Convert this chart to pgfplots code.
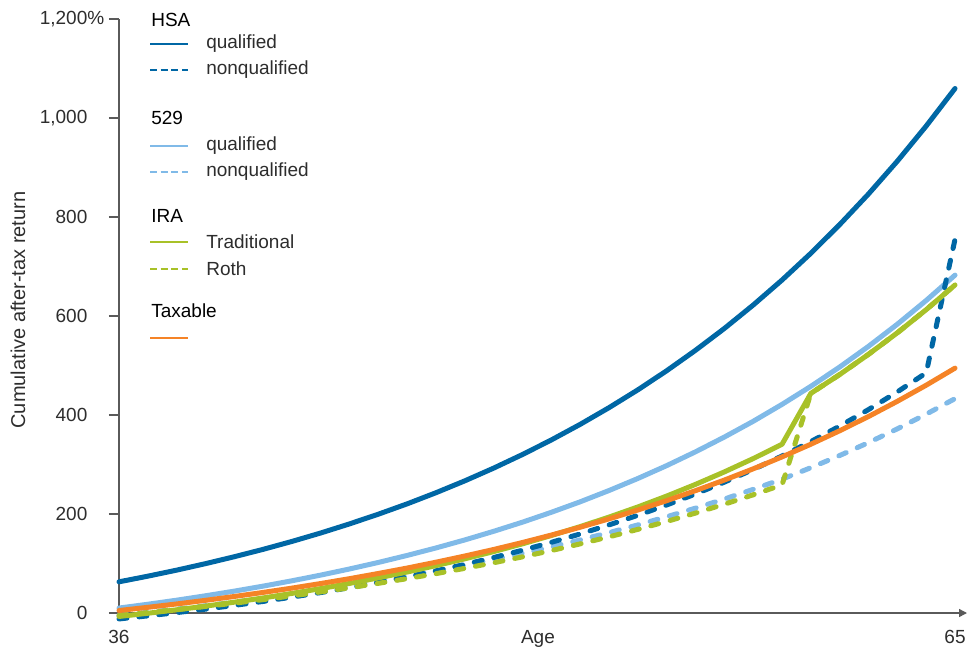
\documentclass[border=0pt]{standalone}
\usepackage{fontspec}
\setmainfont{Liberation Sans}
\usepackage{pgfplots}
\usepackage{pgfplotstable}
\pgfplotsset{compat=1.18}
\usetikzlibrary{arrows.meta}

\definecolor{hsa}{RGB}{0,103,165}
\definecolor{coll}{RGB}{128,186,232}
\definecolor{ira}{RGB}{168,193,40}
\definecolor{taxc}{RGB}{245,131,38}
\definecolor{axgray}{RGB}{90,90,90}
\definecolor{txt}{RGB}{45,45,45}

% cumulative after-tax return (%) by age
\pgfplotstableread{
age hsaq  hsanq  cq    cnq   trad  roth  tax
36  63.0  -12.0  10.0  -4.8  -7.0  -4.8  5.0
37  74.4  -5.8   17.7  1.4   -0.5  0.9   11.5
38  86.6  0.8    25.9  7.8   6.5   6.8   18.3
39  99.7  7.8    34.8  14.7  13.9  13.2  25.6
40  113.7 15.4   44.2  21.9  21.9  19.9  33.4
41  128.6 23.4   54.3  29.5  30.4  27.0  41.6
42  144.6 32.1   65.1  37.6  39.6  34.6  50.3
43  161.7 41.3   76.6  46.1  49.3  42.6  59.6
44  180.1 51.2   89.0  55.0  59.8  51.0  69.4
45  199.7 61.8   102.2 64.5  71.0  60.0  79.9
46  220.6 73.1   116.4 74.5  82.9  69.5  90.9
47  243.1 85.2   131.5 85.1  95.8  79.6  102.7
48  267.1 98.2   147.7 96.3  109.5 90.3  115.2
49  292.8 112.1  165.1 108.1 124.1 101.6 128.4
50  320.3 126.9  183.6 120.5 139.8 113.5 142.5
51  349.7 142.8  203.5 133.7 156.6 126.2 157.5
52  381.2 159.8  224.7 147.7 174.6 139.7 173.3
53  414.9 178.0  247.5 162.4 193.8 153.9 190.2
54  450.9 197.4  271.8 178.0 214.3 169.0 208.1
55  489.5 218.3  297.8 194.5 236.3 185.0 227.0
56  530.8 240.5  325.7 211.9 259.9 201.9 247.2
57  574.9 264.4  355.5 230.3 285.1 219.8 268.6
58  622.2 289.9  387.3 249.8 312.0 238.8 291.3
59  672.7 317.2  421.5 270.4 340.9 258.9 315.4
60  726.8 346.4  458.0 293.6 443.8 443.8 341.0
61  784.7 377.6  497.0 318.2 481.8 481.8 368.2
62  846.6 411.0  538.8 344.3 522.6 522.6 397.0
63  912.9 446.8  583.5 372.1 566.1 566.1 427.7
64  983.8 485.1  631.4 401.7 612.8 612.8 460.2
65  1059.6 755.0 682.6 433.1 662.7 662.7 494.7
}\returns

\begin{document}
\begin{tikzpicture}[font=\fontsize{9.5pt}{11pt}\selectfont]
\begin{axis}[
    at={(0,0)}, anchor=origin,
    scale only axis,
    width=424pt, height=297pt,
    xmin=36, xmax=65.416,
    ymin=0, ymax=1200,
    clip=false,
    axis x line=bottom, axis y line=left,
    x axis line style={draw=axgray, line width=0.7pt, -{Triangle[length=4pt,width=4pt]}},
    y axis line style={draw=axgray, line width=0.7pt, -},
    xtick={36,65},
    xticklabels={36,65},
    x tick style={draw=none},
    xticklabel style={anchor=base, yshift=-10.4pt, text=txt},
    ytick={0,200,...,1200},
    yticklabels={0,200,400,600,800,{1,000},{1,200\rlap{\%}}},
    tick align=outside,
    major tick length=5pt,
    y tick style={draw=axgray, line width=0.7pt},
    yticklabel style={anchor=east, xshift=-7.3pt, text=txt},
    xlabel={Age},
    xlabel style={at={(axis description cs:0.494,0)}, anchor=base, yshift=-15.4pt, text=txt},
    ylabel={Cumulative after-tax return},
    ylabel style={at={(axis description cs:-0.1191,0.51)}, anchor=center, text=txt,
        font=\fontsize{10pt}{12pt}\selectfont},
    every axis plot/.append style={line width=2.5pt, line cap=round, line join=round},
    ddash/.style={dash pattern=on 4pt off 6pt},
]
\addplot[hsa] table[x=age, y=hsaq] {\returns};
\addplot[coll] table[x=age, y=cq] {\returns};
\addplot[coll, ddash] table[x=age, y=cnq] {\returns};
\addplot[hsa, ddash] table[x=age, y=hsanq] {\returns};
\addplot[ira, ddash] table[x=age, y=roth] {\returns};
\addplot[ira] table[x=age, y=trad] {\returns};
\addplot[taxc] table[x=age, y=tax] {\returns};
\end{axis}

% grouped legend
\begin{scope}[line width=1.3pt]
  \tikzset{lg/.style={anchor=west, inner sep=0pt, text=txt},
           hd/.style={anchor=west, inner sep=0pt, text=black},
           ld/.style={dash pattern=on 3.6pt off 1.7pt}}
  \node[hd] at (15.5pt,296.5pt) {HSA};
  \draw[hsa] (15.5pt,284.5pt) -- ++(19pt,0);
  \node[lg] at (43pt,284.5pt) {qualified};
  \draw[hsa, ld] (15.5pt,271.5pt) -- ++(19pt,0);
  \node[lg] at (43pt,271.5pt) {nonqualified};

  \node[hd] at (15.5pt,247.5pt) {529};
  \draw[coll] (15.5pt,233.5pt) -- ++(19pt,0);
  \node[lg] at (43pt,233.5pt) {qualified};
  \draw[coll, ld] (15.5pt,220.5pt) -- ++(19pt,0);
  \node[lg] at (43pt,220.5pt) {nonqualified};

  \node[hd] at (15.5pt,198.5pt) {IRA};
  \draw[ira] (15.5pt,185.5pt) -- ++(19pt,0);
  \node[lg] at (43pt,185.5pt) {Traditional};
  \draw[ira, ld] (15.5pt,172pt) -- ++(19pt,0);
  \node[lg] at (43pt,172pt) {Roth};

  \node[hd] at (15.5pt,151pt) {Taxable};
  \draw[taxc] (15.5pt,137.5pt) -- ++(19pt,0);
\end{scope}

\pgfresetboundingbox
\path (-59.5pt,-18pt) rectangle (426.5pt,306.5pt);
\end{tikzpicture}
\end{document}
